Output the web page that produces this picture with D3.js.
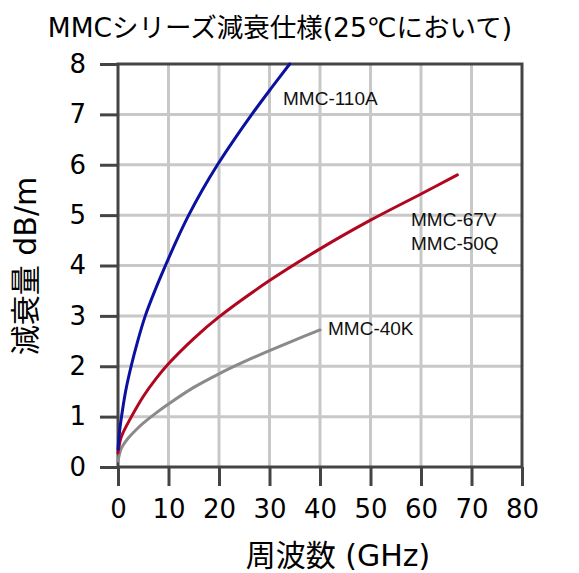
<!DOCTYPE html>
<html><head><meta charset="utf-8">
<script src="https://cdn.jsdelivr.net/npm/d3@7"></script>
<style>body{margin:0;background:#fff}</style>
</head><body><svg id="c" width="579" height="573"></svg>
<script>
const xTicks = [0,10,20,30,40,50,60,70,80];
const yTicks = [0,1,2,3,4,5,6,7,8];
const seriesNames = ["MMC-110A","MMC-67V / MMC-50Q","MMC-40K"];
const blueFreq = [0,0.3,0.7,1.5,2.6,3.9,5.4,7.3,9.4,11.6,14.0,16.7,19.7,23.0,26.5,30.2,34.0];
const blueLoss = [0.35,0.7,1.0,1.5,2.0,2.5,3.0,3.5,4.0,4.5,5.0,5.5,6.0,6.5,7.0,7.5,8.0];
const redFreq = [0,0.5,1,2.5,5,7.5,10,15,20,30,40,50,60,67.2];
const redLoss = [0.28,0.55,0.68,0.97,1.4,1.75,2.05,2.55,2.98,3.7,4.33,4.9,5.42,5.8];
const grayFreq = [0,0.5,1,2,3.5,5,7.5,10,15,20,25,30,35,40];
const grayLoss = [0.12,0.33,0.43,0.57,0.73,0.87,1.07,1.25,1.58,1.85,2.09,2.31,2.52,2.72];
const colors = ["#0a10a0","#b0061f","#8a8a8a"];

const svg = d3.select("#c");
const x = d3.scaleLinear().domain([0,80]).range([118,522]);
const y = d3.scaleLinear().domain([0,8]).range([467,64]);
const font = "'DejaVu Sans','Noto Sans CJK JP',sans-serif";

// grid
svg.append("g").selectAll("line").data(xTicks.slice(1,-1)).join("line")
  .attr("x1",d=>x(d)).attr("x2",d=>x(d)).attr("y1",y(8)).attr("y2",y(0))
  .attr("stroke","#c8c8c8").attr("stroke-width",3);
svg.append("g").selectAll("line").data(yTicks.slice(1,-1)).join("line")
  .attr("y1",d=>y(d)).attr("y2",d=>y(d)).attr("x1",x(0)).attr("x2",x(80))
  .attr("stroke","#c8c8c8").attr("stroke-width",3);

// axes
const ax = svg.append("g").attr("transform",`translate(0,${y(0)})`)
  .call(d3.axisBottom(x).tickValues(xTicks).tickSize(19).tickPadding(14));
const ay = svg.append("g").attr("transform",`translate(${x(0)},0)`)
  .call(d3.axisLeft(y).tickValues(yTicks).tickSize(18).tickPadding(14));
[ax,ay].forEach(g=>{
  g.select(".domain").remove();
  g.selectAll("line").attr("stroke","#444").attr("stroke-width",3);
  g.selectAll("text").attr("font-family",font).attr("font-size",26).attr("fill","#000");
});
// frame
svg.append("rect").attr("x",x(0)).attr("y",y(8)).attr("width",x(80)-x(0)).attr("height",y(0)-y(8))
  .attr("fill","none").attr("stroke","#444").attr("stroke-width",3);

// curves
const line = d3.line().x(d=>x(d[0])).y(d=>y(d[1])).curve(d3.curveCatmullRom.alpha(0.5));
const data = [
  d3.zip(blueFreq,blueLoss), d3.zip(redFreq,redLoss), d3.zip(grayFreq,grayLoss)
];
svg.append("g").selectAll("path").data(data.slice().reverse()).join("path")
  .attr("d",line).attr("fill","none")
  .attr("stroke",(d,i)=>colors[2-i]).attr("stroke-width",3).attr("stroke-linecap","round");

// curve labels
const lab = svg.append("g").attr("font-family","'Liberation Sans',Arial,sans-serif").attr("font-size",19).attr("fill","#111");
lab.append("text").attr("x",283).attr("y",105).text("MMC-110A");
lab.append("text").attr("x",411).attr("y",226).text("MMC-67V");
lab.append("text").attr("x",411).attr("y",250).text("MMC-50Q");
lab.append("text").attr("x",328).attr("y",335).text("MMC-40K");

// titles
svg.append("text").attr("x",280).attr("y",37).attr("text-anchor","middle")
  .attr("font-family",font).attr("font-size",26.5).text("MMCシリーズ減衰仕様(25℃において)");
svg.append("text").attr("x",338).attr("y",566).attr("text-anchor","middle")
  .attr("font-family",font).attr("font-size",30).text("周波数 (GHz)");
svg.append("text").attr("transform","translate(36,266) rotate(-90)").attr("text-anchor","middle")
  .attr("font-family",font).attr("font-size",30).text("減衰量 dB/m");
</script></body></html>
